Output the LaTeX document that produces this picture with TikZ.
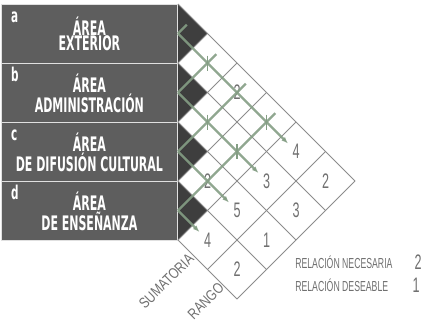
\documentclass[tikz,border=0pt]{standalone}
\usepackage{fontspec}
\setmainfont{Liberation Sans}
\newfontfamily\titlefont[FakeStretch=0.55]{DejaVu Sans}
\newfontfamily\numfont[FakeStretch=0.6]{Liberation Sans}
\newfontfamily\colfont[FakeStretch=0.8]{Liberation Sans}
\usetikzlibrary{arrows.meta}
\definecolor{boxgray}{RGB}{94,94,94}
\definecolor{tridark}{RGB}{62,62,62}
\definecolor{gridgray}{RGB}{140,140,140}
\definecolor{relgreen}{RGB}{132,158,132}
\definecolor{numgray}{RGB}{112,112,112}

\begin{document}
\begin{tikzpicture}[x=29.5pt,y=-29.5pt,>={Latex[length=7pt,width=5pt]},
  areabox/.style={draw=black!12,line width=1.2pt,fill=boxgray,text=white,inner sep=0pt,
    minimum width=176pt,minimum height=59pt,align=center,
    font=\titlefont\bfseries\fontsize{20}{15}\selectfont},
  arealetter/.style={text=white,inner sep=0pt,font=\titlefont\bfseries\fontsize{19}{19}\selectfont},
  gridline/.style={gridgray,line width=0.8pt},
  relline/.style={relgreen,line width=2.4pt,draw opacity=0.9},
  reltick/.style={relgreen,line width=1.6pt},
  cellnum/.style={text=numgray,inner sep=0pt,font=\numfont\fontsize{21}{21}\selectfont},
  colname/.style={text=numgray,inner sep=0pt,rotate=45,anchor=east,font=\colfont\fontsize{15}{16}\selectfont},
  legendtext/.style={text=numgray,inner sep=0pt,anchor=west,font=\numfont\fontsize{14.5}{15}\selectfont}]
  \fill[white] (-6.034,-0.1356) rectangle (8.271,10.847);

  % area boxes
  \node[areabox,anchor=north east] (boxa) at (0,0) {ÁREA\\EXTERIOR};
  \node[areabox,anchor=north east] (boxb) at (0,2) {ÁREA\\ADMINISTRACIÓN};
  \node[areabox,anchor=north east] (boxc) at (0,4) {ÁREA\\DE DIFUSIÓN CULTURAL};
  \node[areabox,anchor=north east] (boxd) at (0,6) {ÁREA\\DE ENSEÑANZA};
  \foreach \n in {a,b,c,d}
    \node[arealetter,anchor=base west] (let\n) at ([xshift=10pt,yshift=-18pt]box\n.north west) {\n};

  % matrix
  \foreach \r in {0,...,3}
    \fill[tridark] (0,2*\r) -- (1,2*\r+1) -- (0,2*\r+2) -- cycle;
  \foreach \k in {0,...,4}
    \draw[gridline] (0,2*\k) -- ({6-\k},{6+\k});
  \foreach \k in {1,...,4}
    \draw[gridline] (0,2*\k) -- (\k,\k);
  \draw[gridline] (1,9) -- (5,5);
  \draw[gridline] (2,10) -- (6,6);

  % rows, cells, sums and ranks
  \foreach \r/\n in {0/a,1/b,2/c,3/d} {
    \coordinate (r\n) at (0,2*\r+1);
    \coordinate (up\n) at ({\r+0.3},{\r+0.7});
  }
  \coordinate (cab) at (1,2);
  \coordinate (cbc) at (1,4);
  \coordinate (cad) at (3,4);
  \coordinate (cbd) at (2,5);
  \node[cellnum] (cac) at (2,3) {2};
  \node[cellnum] (ccd) at (1,6) {2};
  \node[cellnum] (suma) at (4,5) {4};
  \node[cellnum] (sumb) at (3,6) {3};
  \node[cellnum] (sumc) at (2,7) {5};
  \node[cellnum] (sumd) at (1,8) {4};
  \node[cellnum] (ranga) at (5,6) {2};
  \node[cellnum] (rangb) at (4,7) {3};
  \node[cellnum] (rangc) at (3,8) {1};
  \node[cellnum] (rangd) at (2,9) {2};

  % relations
  \foreach \n in {a,b,c,d} {
    \draw[relline] (r\n) -- (up\n);
    \draw[relline,->,shorten >=11pt] (r\n) -- (sum\n.center);
  }
  \foreach \c in {cab,cbc,cad,cbd}
    \draw[reltick] ([yshift=7.5pt]\c) -- ([yshift=-7.5pt]\c);

  \node[colname] (sumatoria) at (0.45,8.55) {SUMATORIA};
  \node[colname] (rango) at (1.47,9.53) {RANGO};

  % legend
  \node[legendtext] (necesaria) at (3.97,8.75) {RELACIÓN NECESARIA};
  \node[cellnum] (valnec) at (8.14,8.75) {2};
  \node[legendtext] (deseable) at (3.97,9.53) {RELACIÓN DESEABLE};
  \node[cellnum] (valdes) at (8.07,9.53) {1};
\end{tikzpicture}
\end{document}
